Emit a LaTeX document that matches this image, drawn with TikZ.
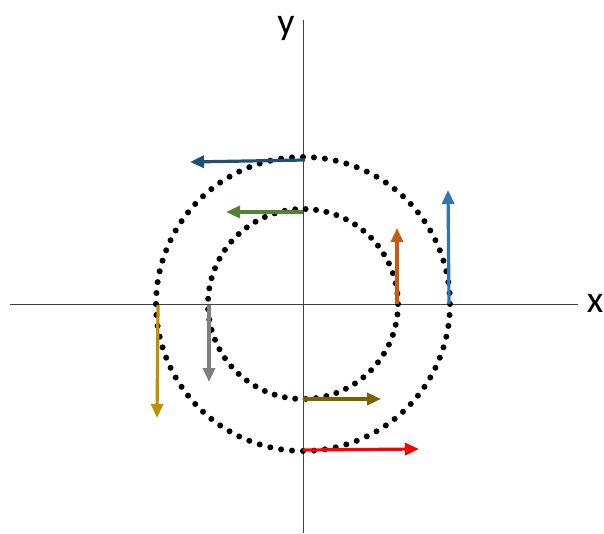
\documentclass[tikz,border=0pt]{standalone}
\usepackage{fontspec}
\setmainfont{Carlito}
\usetikzlibrary{arrows.meta}
\definecolor{navyvec}{HTML}{1F4E79}
\definecolor{greenvec}{HTML}{548235}
\definecolor{orangevec}{HTML}{C55A11}
\definecolor{bluevec}{HTML}{2E75B6}
\definecolor{goldvec}{HTML}{BF9000}
\definecolor{grayvec}{HTML}{7F7F7F}
\definecolor{olivevec}{HTML}{7F6000}
\definecolor{redvec}{HTML}{FF0000}
\tikzset{
  vec/.style={-{Triangle[length=14pt,width=12pt]},line width=3.2pt},
  axis/.style={line width=1pt,black!75},
  lbl/.style={font=\fontsize{38}{38}\selectfont,inner sep=0pt}
}
\begin{document}
\begin{tikzpicture}[x=1pt,y=-1pt]
  \useasboundingbox (0,0) rectangle (604,534);
  \coordinate (O) at (303,304);
  % axes
  \draw[axis] (10,304) -- (578,304);
  \draw[axis] (303,20) -- (303,533);
  \node[lbl] (xlab) at (595,303) {x};
  \node[lbl] (ylab) at (286,28) {y};
  % dotted circles
  \foreach \i in {0,...,83}
    \fill[shift={(O)}] (360/84*\i:147) circle (3pt);
  \foreach \i in {0,...,56}
    \fill[shift={(O)}] (360/57*\i:95) circle (3pt);
  % vectors
  \coordinate (a1) at (305,160); \coordinate (b1) at (190,162);
  \coordinate (a2) at (303,212); \coordinate (b2) at (226,212);
  \coordinate (a3) at (397,304); \coordinate (b3) at (397,228);
  \coordinate (a4) at (449,304); \coordinate (b4) at (448,190);
  \coordinate (a5) at (158,305); \coordinate (b5) at (157,418);
  \coordinate (a6) at (209,305); \coordinate (b6) at (209,382);
  \coordinate (a7) at (303,399); \coordinate (b7) at (381,399);
  \coordinate (a8) at (303,450); \coordinate (b8) at (419,449);
  \draw[vec,navyvec]   (a1) -- (b1);
  \draw[vec,greenvec]  (a2) -- (b2);
  \draw[vec,orangevec] (a3) -- (b3);
  \draw[vec,bluevec]   (a4) -- (b4);
  \draw[vec,goldvec]   (a5) -- (b5);
  \draw[vec,grayvec]   (a6) -- (b6);
  \draw[vec,olivevec]  (a7) -- (b7);
  \draw[vec,redvec]    (a8) -- (b8);
\end{tikzpicture}
\end{document}
